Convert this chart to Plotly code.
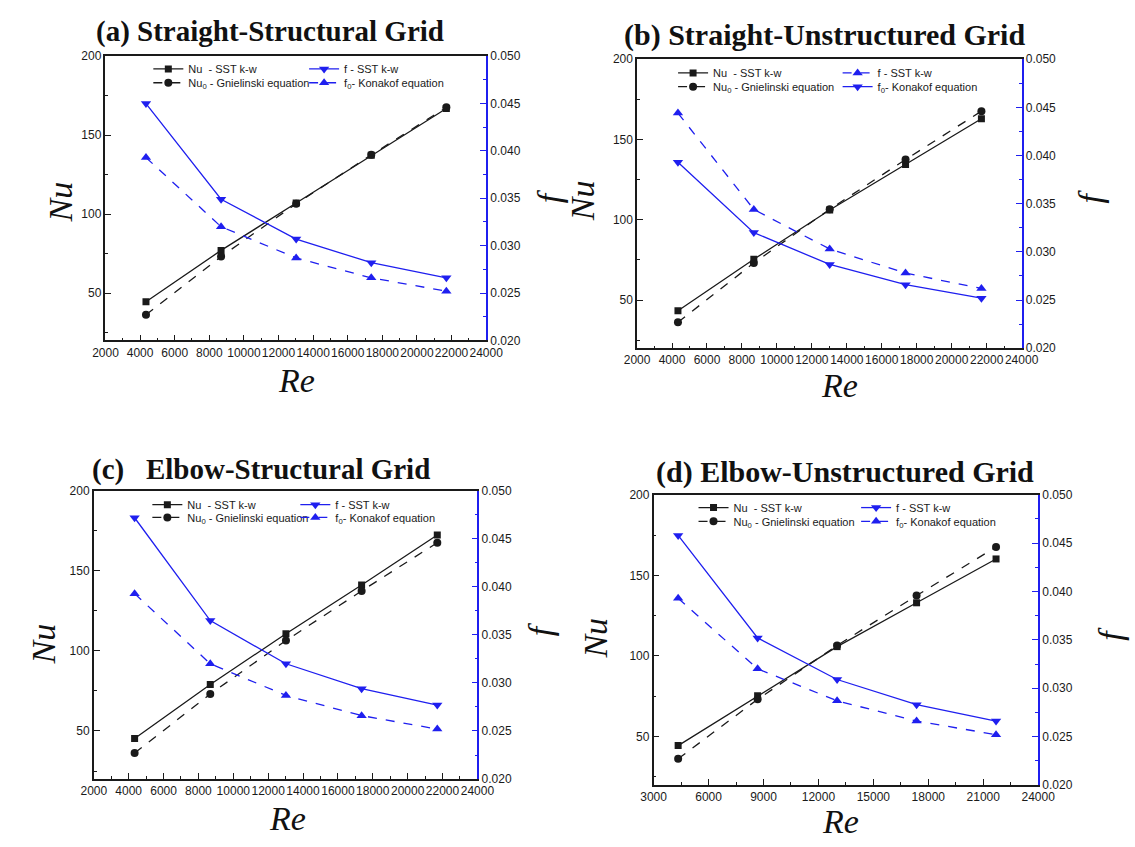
import plotly.graph_objects as go

# ---------------- data ----------------
re_values = [4340, 8680, 13020, 17360, 21700]

nu_gnielinski = [36.2, 73.1, 106.5, 137.5, 167.6]
f_konakof = [0.0393, 0.0320, 0.0287, 0.0266, 0.0252]

nu_sst_a = [44.5, 77.0, 107.0, 137.2, 166.9]
f_sst_a = [0.0450, 0.0349, 0.0307, 0.0282, 0.0266]

nu_sst_b = [43.4, 75.4, 106.1, 134.4, 162.9]
f_sst_b = [0.0444, 0.0344, 0.0303, 0.0278, 0.0262]

nu_sst_c = [45.3, 79.0, 110.8, 141.2, 172.4]
f_sst_c = [0.0472, 0.0365, 0.0320, 0.0294, 0.0277]

nu_sst_d = [44.4, 75.3, 105.8, 133.0, 160.2]
f_sst_d = [0.0458, 0.0352, 0.0309, 0.0283, 0.0266]

titles = ["(a) Straight-Structural Grid",
          "(b) Straight-Unstructured Grid",
          "(c)\u00a0\u00a0\u00a0Elbow-Structural Grid",
          "(d) Elbow-Unstructured Grid"]

x_ranges = [[2000, 24000], [2000, 24000], [2000, 24000], [3000, 24000]]
x_dticks = [2000, 2000, 2000, 3000]
nu_range = [20, 200]
f_range = [0.020, 0.050]

name_nu = "Nu  - SST k-w"
name_nu0 = "Nu<sub>0</sub> - Gnielinski equation"
name_f = "f - SST k-w"
name_f0 = "f<sub>0</sub>- Konakof equation"

# ---------------- layout geometry (pixels) ----------------
W, H = 1135, 847
BLACK = "#1a1a1a"
BLUE = "#1f1fef"

panels = [
    dict(box=(95, 486, 50, 339), title=(83, 25, 29), nu=(49, 198), f=(551, 192), re=(291, 380),
         leg=[(153, 63), (153, 77), (313, 63), (313, 77)],
         nu_sst=nu_sst_a, f_sst=f_sst_a, f_swap=False),
    dict(box=(641, 1036, 53, 347), title=(626, 28, 30), nu=(585, 197), f=(1107, 193), re=(849, 385),
         leg=[(692, 67), (692, 81), (861, 67), (861, 81)],
         nu_sst=nu_sst_b, f_sst=f_sst_b, f_swap=True),
    dict(box=(83, 477, 492, 785), title=(79, 470, 29), nu=(31, 648), f=(542, 633), re=(282, 825),
         leg=[(152, 506), (152, 519), (304, 506), (304, 519)],
         nu_sst=nu_sst_c, f_sst=f_sst_c, f_swap=False),
    dict(box=(658, 1053, 496, 791), title=(658, 473, 30), nu=(598, 642), f=(1127, 637), re=(850, 828),
         leg=[(713, 509), (713, 523), (880, 509), (880, 523)],
         nu_sst=nu_sst_d, f_sst=f_sst_d, f_swap=False),
]


def fx(p):
    return p / W


def fy(p):
    return 1 - p / H


fig = go.Figure()
layout = dict(width=W, height=H, margin=dict(l=0, r=0, t=0, b=0),
              paper_bgcolor="white", plot_bgcolor="white", showlegend=True,
              font=dict(family="Liberation Sans, Arial", size=12, color=BLACK))
annotations = []
tickfont = dict(family="Liberation Sans, Arial", size=12, color=BLACK)
leg_n = 0

for i, p in enumerate(panels):
    xid = "x" if i == 0 else f"x{i+1}"
    xkey = "xaxis" if i == 0 else f"xaxis{i+1}"
    n_nu, n_f = 2 * i + 1, 2 * i + 2
    yid_nu = "y" if n_nu == 1 else f"y{n_nu}"
    ykey_nu = "yaxis" if n_nu == 1 else f"yaxis{n_nu}"
    yid_f = f"y{n_f}"
    ykey_f = f"yaxis{n_f}"
    x0, x1, y0, y1 = p["box"]

    layout[xkey] = dict(domain=[fx(x0), fx(x1)], anchor=yid_nu, range=x_ranges[i],
                        tick0=0, dtick=x_dticks[i], tickformat="d", tickangle=0,
                        ticks="inside", ticklen=6, tickwidth=1, tickcolor=BLACK,
                        minor=dict(dtick=x_dticks[i] / 2, ticks="inside", ticklen=3,
                                   tickcolor=BLACK, showgrid=False),
                        showline=True, linecolor=BLACK, linewidth=1.5, mirror=True,
                        showgrid=False, zeroline=False, tickfont=tickfont)
    layout[ykey_nu] = dict(domain=[fy(y1), fy(y0)], anchor=xid, range=nu_range,
                           tick0=0, dtick=50, ticks="inside", ticklen=6, tickcolor=BLACK,
                           minor=dict(dtick=25, ticks="inside", ticklen=3, tickcolor=BLACK,
                                      showgrid=False),
                           showline=True, linecolor=BLACK, linewidth=1.5,
                           showgrid=False, zeroline=False, tickfont=tickfont)
    layout[ykey_f] = dict(overlaying=yid_nu, side="right", anchor=xid, range=f_range,
                          tick0=0.02, dtick=0.005, tickformat=".3f",
                          ticks="inside", ticklen=6, tickcolor=BLUE,
                          minor=dict(dtick=0.0025, ticks="inside", ticklen=3, tickcolor=BLUE,
                                     showgrid=False),
                          showline=True, linecolor=BLUE, linewidth=1.5,
                          showgrid=False, zeroline=False, tickfont=tickfont)

    if p["f_swap"]:
        f_style = dict(dash="dash", sym="triangle-up")
        f0_style = dict(dash="solid", sym="triangle-down")
    else:
        f_style = dict(dash="solid", sym="triangle-down")
        f0_style = dict(dash="dash", sym="triangle-up")

    series = [
        (name_nu, p["nu_sst"], yid_nu, BLACK, "solid", "square", 7),
        (name_nu0, nu_gnielinski, yid_nu, BLACK, "dash", "circle", 8),
        (name_f, p["f_sst"], yid_f, BLUE, f_style["dash"], f_style["sym"], 9),
        (name_f0, f_konakof, yid_f, BLUE, f0_style["dash"], f0_style["sym"], 9),
    ]
    for k, (nm, vals, yid, col, dash, sym, msz) in enumerate(series):
        leg_n += 1
        lkey = "legend" if leg_n == 1 else f"legend{leg_n}"
        lx, ly = p["leg"][k]
        layout[lkey] = dict(x=fx(lx - 14), y=fy(ly), xanchor="left", yanchor="middle",
                            bgcolor="rgba(0,0,0,0)", borderwidth=0,
                            font=dict(family="Liberation Sans, Arial", size=11, color=BLACK),
                            itemwidth=30, tracegroupgap=0)
        fig.add_trace(go.Scatter(
            x=re_values, y=vals, xaxis=xid, yaxis=yid, name=nm, legend=lkey,
            mode="lines+markers",
            line=dict(color=col, width=1.3, dash=dash),
            marker=dict(symbol=sym, size=msz, color=col),
        ))

    # title
    tx, ty, tsz = p["title"]
    annotations.append(dict(text=f"<b>{titles[i]}</b>", xref="paper", yref="paper",
                            x=fx(tx), y=fy(ty), xanchor="left", yanchor="middle",
                            showarrow=False,
                            font=dict(family="Liberation Serif, Times New Roman", size=tsz,
                                      color="#111111")))
    # axis titles
    ax_font = dict(family="Liberation Serif, Times New Roman", size=34, color="#111111")
    annotations.append(dict(text="<i>Nu</i>", xref="paper", yref="paper",
                            x=fx(p["nu"][0]), y=fy(p["nu"][1]), xanchor="center",
                            yanchor="middle", textangle=-90, showarrow=False, font=ax_font))
    annotations.append(dict(text="<i>f</i>", xref="paper", yref="paper",
                            x=fx(p["f"][0]), y=fy(p["f"][1]), xanchor="center",
                            yanchor="middle", textangle=-90, showarrow=False, font=ax_font))
    annotations.append(dict(text="<i>Re</i>", xref="paper", yref="paper",
                            x=fx(p["re"][0]), y=fy(p["re"][1]), xanchor="center",
                            yanchor="middle", showarrow=False, font=ax_font))

layout["annotations"] = annotations
fig.update_layout(**layout)

fig.write_html("out.html", config={"displayModeBar": False},
               post_script="document.body.style.margin='0';")
